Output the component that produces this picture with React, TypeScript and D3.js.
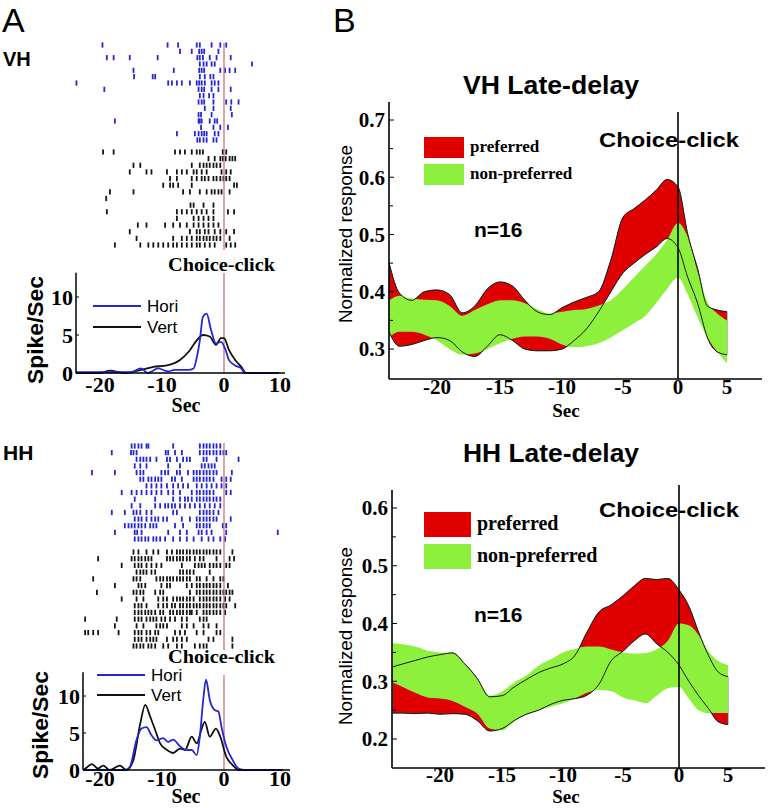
import React from "react";
import * as d3 from "d3";

const SERIF = "'Liberation Serif','Times New Roman',serif";
const SANS = "'Liberation Sans',Arial,Helvetica,sans-serif";
const RED = "#e00000";
const GREEN = "#8cf03c";
const BLUE = "#2626d6";

// ---------- Panel B data (normalized response bands) ----------
const bandTimes = [-23.8, -23, -22, -21, -20, -19, -18, -17, -16, -15, -14, -13, -12, -11, -10, -9, -8, -7, -6, -5, -4, -3, -2, -1, 0, 1, 2, 3, 4, 5];

const vhPrefHi = [0.45, 0.398, 0.385, 0.4, 0.403, 0.395, 0.363, 0.375, 0.405, 0.417, 0.41, 0.385, 0.365, 0.36, 0.372, 0.382, 0.39, 0.4, 0.455, 0.53, 0.545, 0.56, 0.577, 0.596, 0.583, 0.5, 0.44, 0.375, 0.368, 0.365];
const vhPrefLo = [0.33, 0.305, 0.308, 0.315, 0.32, 0.315, 0.295, 0.287, 0.305, 0.325, 0.315, 0.3, 0.297, 0.297, 0.3, 0.315, 0.335, 0.365, 0.4, 0.433, 0.45, 0.465, 0.478, 0.493, 0.477, 0.425, 0.38, 0.32, 0.295, 0.29];
const vhNonHi = [0.385, 0.393, 0.388, 0.386, 0.385, 0.375, 0.358, 0.368, 0.378, 0.385, 0.385, 0.38, 0.37, 0.362, 0.365, 0.368, 0.37, 0.376, 0.385, 0.405, 0.425, 0.445, 0.465, 0.49, 0.52, 0.495, 0.435, 0.382, 0.362, 0.35];
const vhNonLo = [0.32, 0.33, 0.33, 0.325, 0.315, 0.3, 0.29, 0.292, 0.3, 0.31, 0.318, 0.322, 0.322, 0.318, 0.308, 0.303, 0.305, 0.31, 0.32, 0.333, 0.345, 0.357, 0.38, 0.405, 0.425, 0.395, 0.355, 0.32, 0.295, 0.275];

const hhPrefHi = [0.325, 0.33, 0.336, 0.342, 0.346, 0.349, 0.33, 0.305, 0.273, 0.275, 0.29, 0.303, 0.315, 0.323, 0.33, 0.345, 0.385, 0.42, 0.432, 0.448, 0.465, 0.478, 0.476, 0.478, 0.458, 0.43, 0.385, 0.345, 0.316, 0.308];
const hhPrefLo = [0.245, 0.245, 0.244, 0.245, 0.243, 0.244, 0.243, 0.232, 0.214, 0.218, 0.232, 0.243, 0.25, 0.26, 0.267, 0.27, 0.276, 0.295, 0.335, 0.352, 0.37, 0.382, 0.365, 0.35, 0.328, 0.3, 0.275, 0.253, 0.23, 0.225];
const hhNonHi = [0.366, 0.364, 0.36, 0.353, 0.35, 0.349, 0.33, 0.305, 0.275, 0.282, 0.298, 0.31, 0.327, 0.338, 0.35, 0.356, 0.36, 0.36, 0.355, 0.35, 0.348, 0.349, 0.355, 0.37, 0.4, 0.397, 0.38, 0.352, 0.335, 0.328];
const hhNonLo = [0.298, 0.29, 0.28, 0.272, 0.27, 0.266, 0.256, 0.244, 0.218, 0.215, 0.23, 0.243, 0.25, 0.256, 0.262, 0.27, 0.28, 0.285, 0.283, 0.272, 0.267, 0.262, 0.275, 0.288, 0.29, 0.27, 0.25, 0.245, 0.245, 0.245];

const bXTicks = [-20, -15, -10, -5, 0, 5];
const vhYTicks = [0.3, 0.4, 0.5, 0.6, 0.7];
const vhYMinor = [0.35, 0.45, 0.55, 0.65];
const hhYTicks = [0.2, 0.3, 0.4, 0.5, 0.6];
const hhYMinor = [0.25, 0.35, 0.45, 0.55];

// ---------- Panel A data (PSTH) ----------
const vhHoriT = [-23.9, -15, -13.4, -12.3, -10.6, -9, -8, -5.8, -4.9, -4.4, -3.9, -3.4, -2.8, -2.1, -1.3, -0.5, 0.3, 0.9, 2, 3.1, 3.7, 9.8];
const vhHoriV = [0.1, 0.1, 0.6, 0, 0.6, 0.2, 0.4, 0.4, 0.6, 2.0, 4.3, 7.4, 7.8, 5.7, 3.9, 4.1, 3.0, 1.7, 1.0, 0.6, 0, 0];
const vhVertT = [-23.9, -20, -18.4, -16, -13.4, -11.4, -9.2, -7.1, -5.5, -4.4, -3.4, -2.3, -1.3, -0.5, 0, 0.9, 2, 3.1, 3.9, 9.8];
const vhVertV = [0, 0, 0.3, 0, 0.4, 0.8, 1.0, 1.7, 3.0, 4.3, 5.0, 4.8, 3.7, 4.6, 4.6, 3.0, 1.7, 0.8, 0, 0];

const hhHoriT = [-22.7, -16, -15.2, -14.1, -13.3, -12.5, -11.7, -10.9, -9.8, -9.0, -8.2, -7.1, -6.0, -5.2, -4.4, -3.9, -3.3, -2.9, -2.3, -1.5, -0.9, -0.4, 0.4, 1.5, 2.6, 3.7, 10.5];
const hhHoriV = [0, 0, 0.4, 4.1, 5.6, 5.8, 4.7, 4.0, 4.3, 3.8, 4.1, 3.2, 2.7, 2.7, 2.0, 4.5, 9.9, 12.2, 9.5, 8.1, 7.9, 5.8, 3.2, 1.4, 0.2, 0, 0];
const hhVertT = [-22.7, -22.2, -21.3, -20.3, -19.5, -18.4, -16.8, -15.7, -14.6, -13.5, -12.7, -11.9, -11.1, -10.3, -9.2, -8.2, -7.1, -6.3, -5.2, -4.4, -3.6, -3.1, -2.3, -1.3, -0.6, 0.4, 1.5, 2.6, 10.5];
const hhVertV = [0, 0.3, 0.8, 0.2, 0.6, 0, 0.6, 0, 1.4, 6.3, 8.8, 7.2, 5.4, 3.6, 2.7, 2.3, 2.9, 2.7, 4.5, 3.6, 5.6, 6.5, 4.5, 5.6, 4.5, 1.8, 0.7, 0, 0];

const aXTicks = [-20, -10, 0, 10];
const aYTicks = [0, 5, 10];

// ---------- Panel A data (rasters, spike times in s) ----------
const vhBlueRaster = [
  [-19.6, -9.1, -7.4, -4.4, -3.9, -2.0, -0.6, 0.4],
  [-7.1, -5.2, -4.0, -3.6, -3.2, -0.9],
  [-18.9, -17.8, -15.2, -10.7, -4.3, -3.9, -3.4, -2.3, -1.2, 1.2],
  [-3.9, -3.3, -2.8, -2.0, -1.5, 5.0],
  [-14.6, -8.1, -4.0, -3.6, -3.2, -0.6, 0.2, 1.0, 2.0],
  [-14.5, -11.5, -11.1, -3.9, -3.1, -2.2, -1.7],
  [-23.8, -9.0, -8.4, -7.6, -6.8, -5.5, -4.4, -4.0, -3.6, -3.1, -2.0, -1.5, -0.9],
  [-19.3, -4.1, -3.6, -3.2, -2.0, -0.9, 1.2],
  [-3.9, -3.3, -2.4, -1.7],
  [-4.1, -3.6, -3.2, -1.7, 0.4, 1.3, 2.6],
  [-3.1, -1.7, 1.2],
  [-4.1, -3.7, -2.0, 1.4],
  [-17.6, -4.1, -3.9, -3.6, -2.3, -1.5, -1.1],
  [-3.7, -1.7, -0.6, 0.7],
  [-7.6, -4.7, -4.1, -3.6, -3.2, -2.8, -1.5, -0.9],
  [-4.3, -3.9, -3.3, -2.8, -1.7, -1.2],
];
const vhBlackRaster = [
  [-19.5, -17.8, -7.9, -7.1, -6.3, -5.2, -4.4, -3.9, -3.4, -0.2, 0.4],
  [-2.5, -1.5, -0.6, -0.2, 0.3, 1.0, 1.5, 2.0],
  [-14.6, -13.5, -5.2, -3.9, -3.3, -2.8, -2.3, -1.7, -1.2, -0.6],
  [-15.2, -12.5, -11.7, -9.2, -7.6, -6.8, -6.0, -4.9, -4.4, -3.6, -2.8, -0.4, 0.4, 1.2],
  [-8.7, -7.6, -5.2, -4.4, -3.6, -3.1, -2.5, -1.7, -1.2, -0.6, -0.1, 0.4, 1.0],
  [-9.8, -8.7, -8.2, -7.4, -5.2, 1.8, 2.3],
  [-18.4, -14.6, -6.6, -5.5, -3.9, -2.8, -2.0, -1.5, -0.9, -0.4, 1.0],
  [-19.0],
  [-5.4, -4.9, -3.3, -1.7],
  [-18.9, -7.6, -6.8, -6.0, -5.2, -4.4, -3.6, -2.8, -1.7, 0.7, 1.8],
  [-7.6, -4.9, -4.1, -3.3, -2.5, -1.7],
  [-13.9, -12.5, -9.5, -8.2, -7.1, -6.0, -4.9, -4.1, -3.3, -2.5, -1.7, -0.9],
  [-15.2, -5.5, -4.4, -3.9, -3.1, -2.5, -1.5, -0.6, 0.4, 1.8],
  [-14.1, -8.2, -6.8, -6.0, -5.2, -4.4, -3.9, -3.3, -2.8, -2.3, -1.7, -1.2, -0.6, 1.0],
  [-17.6, -13.5, -12.2, -11.4, -10.6, -9.8, -9.0, -8.2, -7.6, -6.8, -6.0, -5.2, -4.4, -3.9, -3.1, -2.3, -1.5, 0.4, 1.2, 2.0],
];
const hhBlueRaster = [
  [-14.9, -14.4, -13.8, -13.3, -12.5, -12.2, -8.2, -3.9, -3.3, -2.8, -2.3, -1.7, -1.2, -0.6],
  [-18.1, -15.0, -14.6, -14.1, -9.4, -9.0, -7.9, -6.8, -3.9, -3.3, -2.8, -2.3, -1.7, -1.2, -0.6, -0.1, 0.4],
  [-14.1, -13.5, -13.0, -12.5, -11.9, -10.9, -9.2, -8.7, -7.6, -6.6, -6.0, -5.5, -3.3, -2.8, -1.2, 2.6],
  [-14.4, -13.5, -12.5, -9.0, -7.1, -3.6, -3.1, -2.5, -2.0, -1.5],
  [-21.3, -17.6, -14.1, -13.5, -13.0, -10.1, -9.5, -9.0, -7.6, -7.1, -5.8, -4.9, -4.4, -3.9, -3.3, -2.8, -2.3, -1.7, -1.2, 1.4],
  [-13.5, -13.0, -12.2, -11.7, -11.1, -10.6, -10.1, -8.4, -7.9, -6.8, -4.9, -4.4, -3.9, -3.3, -2.8, -2.3, -1.7, -0.4, 0.4, 1.2],
  [-12.5, -11.7, -10.9, -10.1, -9.2, -8.2, -7.4, -6.6, -5.8, -4.4, -3.6, -2.8, -2.0, -1.2, -0.4, 0.4],
  [-16.5, -14.9, -14.1, -13.3, -12.5, -11.7, -10.9, -10.1, -9.0, -8.2, -7.1, -5.2, -4.4, -3.9, -3.3, -2.8, -2.3, -1.7, 0.4, 1.2],
  [-14.4, -11.1, -8.2, -7.1, -6.3, -5.8, -5.2, -4.4, -3.9, -3.3, -2.8, -2.3, -1.7, -1.2, -0.6],
  [-14.9, -13.5, -11.1, -10.3, -9.5, -9.0, -8.4, -7.9, -7.1, -6.3, -5.5, -4.7, -3.9, -3.1, -2.3, -1.5, -0.6],
  [-18.1, -16.0, -14.6, -14.1, -13.5, -12.5, -11.7, -8.2, -7.6, -3.9, -3.3, -2.8, -2.3, -1.7, -0.9],
  [-14.4, -13.8, -13.3, -12.5, -11.7, -11.1, -10.6, -9.8, -9.2, -6.8, -5.5, -4.4, -3.9, -3.3, -2.8, -2.3, -1.7, -1.2, 1.2],
  [-16.0, -15.4, -14.9, -14.4, -13.8, -13.3, -12.7, -11.9, -11.4, -10.9, -7.9, -6.6, -4.4, -3.9, -3.3, -2.8, -2.3, -0.2, 0.4],
  [-17.6, -14.4, -14.0, -13.3, -9.0, -7.1, -6.0, -4.1, -3.6, -2.8, -2.0, 0.4, 9.6],
  [-14.4, -13.8, -13.3, -12.7, -12.2, -11.4, -10.9, -10.3, -9.5, -8.2, -7.1, -6.0, -4.9, -3.6, -2.5, -1.7, -0.6, 0.2],
];
const hhBlackRaster = [
  [-14.6, -13.8, -12.5, -11.4, -10.6, -9.2, -8.4, -7.6, -7.1, -6.6, -6.0, -5.5, -4.9, -4.4, -3.9, -3.3, -2.8, -2.3, -1.7, -1.2, -0.6, 1.5],
  [-20.3, -14.9, -14.4, -13.8, -13.3, -12.7, -12.2, -11.7, -9.2, -8.7, -8.2, -7.6, -7.1, -6.6, -6.0, -5.5, -4.7, -3.9, -3.3, -1.2, 1.0, 1.8],
  [-16.5, -14.4, -13.8, -13.3, -12.5, -11.7, -10.9, -10.1, -6.8, -4.7, -4.1, -3.6, -3.1, -2.3, -1.7, -1.2, -0.6, 0.4, 1.0],
  [-14.1, -13.5, -13.0, -12.5, -11.7, -11.1, -7.1, -6.6, -6.0, -5.5, -4.9, -2.3],
  [-21.1, -14.6, -14.1, -13.5, -10.9, -10.3, -9.8, -9.2, -8.7, -8.2, -7.6, -7.1, -6.6, -6.0, -5.5, -4.4, -3.9, -2.8, -1.7, -0.6, -0.1],
  [-17.6, -13.8, -13.3, -12.7, -10.1, -9.2, -8.7, -6.0, -5.2, -4.4, -3.9, -3.3, -2.8, -2.3, -1.7, -1.2, -0.6, 0.7],
  [-20.5, -14.6, -14.1, -13.5, -13.0, -11.1, -10.3, -9.8, -5.5, -4.4, -3.9, -3.3, -2.8, -2.3, -1.7, -1.2, -0.6, -0.1, 0.4, 1.0, 1.5],
  [-16.5, -14.1, -13.0, -10.6, -9.8, -9.2, -8.2, -7.6, -7.1, -6.6, -6.0, -5.5, -4.9, -3.9, -3.3, -2.8, -2.3, -1.7, -1.2, -0.6, 0.2, 1.0],
  [-14.4, -13.8, -13.3, -12.5, -10.6, -9.8, -9.2, -8.4, -7.9, -7.1, -6.6, -6.0, -5.5, -4.9, -4.4, -3.9, -3.3, -2.8, -2.3, -1.7, -1.2, -0.6, -0.1, 0.4, 2.0],
  [-14.4, -13.8, -13.3, -12.7, -12.2, -11.7, -11.1, -10.3, -9.8, -8.7, -8.2, -7.6, -7.1, -6.6, -6.0, -5.5, -5.2, -4.4, -3.3, -2.8, -2.3, -1.7, -1.2, -0.6, 0.2],
  [-22.4, -17.3, -14.4, -13.8, -13.3, -12.5, -11.9, -11.4, -10.9, -10.1, -9.5, -8.7, -7.9, -6.8, -6.0, -3.9, -3.3, -2.8],
  [-17.6, -14.1, -13.0, -10.9, -10.3, -9.8, -9.2, -6.8, -6.0, -4.9, -3.3, -2.5, -1.2],
  [-22.4, -21.9, -21.1, -20.3, -17.0, -14.4, -13.8, -13.3, -12.5, -11.9, -11.1, -10.6, -7.9, -7.1, -6.3, -4.4, -3.3, -1.2, -0.6],
  [-14.4, -13.8, -13.3, -12.5, -11.9, -11.4, -10.9, -9.2, -8.2, -7.6, -6.8, -6.0, -2.5, -1.7, 1.5],
  [-14.6, -14.1, -13.5, -13.0, -12.2, -11.7, -11.1, -9.8, -9.0, -7.6, -6.8, -4.7, -3.9, -3.3, -2.8, 1.5],
];

// ---------- Panel B component ----------
type BandCfg = {
  title: string; titleY: number;
  xRange: number[]; axisX: number; axisTop: number; axisBottom: number; axisRight: number;
  yDomain: number[]; yRange: number[]; yTicks: number[]; yMinor: number[];
  prefHi: number[]; prefLo: number[]; nonHi: number[]; nonLo: number[];
  lineTop: number; legY: number; legH: number; legW: number; legGap: number; legFont: number;
  nY: number; ccY: number; yLabelY: number; xLabelY: number; secY: number;
};

function BandPanel({ c }: { c: BandCfg }) {
  const x = d3.scaleLinear().domain(bXTicks).range(c.xRange);
  const y = d3.scaleLinear().domain(c.yDomain).range(c.yRange);
  const idx = d3.range(bandTimes.length);
  const area = (lo: number[], hi: number[]) =>
    d3.area<number>().x((i) => x(bandTimes[i])).y0((i) => y(lo[i])).y1((i) => y(hi[i])).curve(d3.curveMonotoneX)(idx) || "";
  const line = (v: number[]) =>
    d3.line<number>().x((i) => x(bandTimes[i])).y((i) => y(v[i])).curve(d3.curveMonotoneX)(idx) || "";
  return (
    <g>
      <text x={551} y={c.titleY} textAnchor="middle" fontFamily={SANS} fontWeight="bold" fontSize={25} textLength={176} lengthAdjust="spacingAndGlyphs">{c.title}</text>
      <path d={area(c.prefLo, c.prefHi)} fill={RED} stroke="#555" strokeWidth={0.8} />
      <path d={area(c.nonLo, c.nonHi)} fill={GREEN} />
      <path d={line(c.prefHi)} fill="none" stroke="#1a1a1a" strokeWidth={1} />
      <path d={line(c.prefLo)} fill="none" stroke="#1a1a1a" strokeWidth={1} />
      {/* axes */}
      <line x1={c.axisX} x2={c.axisX} y1={c.axisTop} y2={c.axisBottom} stroke="#000" strokeWidth={1.6} />
      <line x1={c.axisX} x2={c.axisRight} y1={c.axisBottom} y2={c.axisBottom} stroke="#000" strokeWidth={1.6} />
      {c.yTicks.map((t) => (
        <g key={"yt" + t}>
          <line x1={c.axisX} x2={c.axisX + 5} y1={y(t)} y2={y(t)} stroke="#000" strokeWidth={1} />
          <text x={c.axisX - 4} y={y(t)} dy="0.35em" textAnchor="end" fontFamily={SERIF} fontWeight="bold" fontSize={21}>{t.toFixed(1)}</text>
        </g>
      ))}
      {c.yMinor.map((t) => (
        <line key={"ym" + t} x1={c.axisX} x2={c.axisX + 4} y1={y(t)} y2={y(t)} stroke="#000" strokeWidth={1} />
      ))}
      {bXTicks.map((t) => (
        <text key={"xt" + t} x={x(t)} y={c.xLabelY} textAnchor="middle" fontFamily={SERIF} fontWeight="bold" fontSize={21}>{String(t)}</text>
      ))}
      <text x={566} y={c.secY} textAnchor="middle" fontFamily={SERIF} fontWeight="bold" fontSize={19}>Sec</text>
      <text transform={`translate(352,${c.yLabelY}) rotate(-90)`} textAnchor="middle" fontFamily={SANS} fontSize={18} textLength={178} lengthAdjust="spacingAndGlyphs">Normalized response</text>
      {/* legend */}
      <rect x={424} y={c.legY} width={c.legW} height={c.legH} fill={RED} />
      <rect x={424} y={c.legY + c.legGap} width={c.legW} height={c.legH} fill={GREEN} />
      <text x={424 + c.legW + 6} y={c.legY + c.legH * 0.72} fontFamily={SERIF} fontWeight="bold" fontSize={c.legFont}>preferred</text>
      <text x={424 + c.legW + 6} y={c.legY + c.legGap + c.legH * 0.72} fontFamily={SERIF} fontWeight="bold" fontSize={c.legFont}>non-preferred</text>
      <text x={474} y={c.nY} fontFamily={SANS} fontWeight="bold" fontSize={21}>n=16</text>
      <text x={599} y={c.ccY} fontFamily={SANS} fontWeight="bold" fontSize={21} textLength={140} lengthAdjust="spacingAndGlyphs">Choice-click</text>
      <line x1={x(0)} x2={x(0)} y1={c.lineTop} y2={c.axisBottom} stroke="#000" strokeWidth={1.6} />
    </g>
  );
}

// ---------- Panel A component ----------
type PsthCfg = {
  axisX: number; axisRight: number; y0: number; y10: number;
  blueRows: number[][]; blackRows: number[][];
  blueRange: number[]; blackRange: number[]; rasterTop: number; rasterBottom: number;
  psthLineTop: number; horiT: number[]; horiV: number[]; vertT: number[]; vertV: number[];
  xLabelY: number; secY: number; spikeY: number; spikeX: number; ccY: number;
  legY1: number; legY2: number; legX: number;
};

const aX = d3.scaleLinear().domain(aXTicks).range([100, 162, 224, 280]);

function PsthPanel({ c }: { c: PsthCfg }) {
  const y = d3.scaleLinear().domain([0, 10]).range([c.y0, c.y10]);
  const top = y(13.2);
  const rowsB = d3.scalePoint<number>().domain(d3.range(c.blueRows.length)).range(c.blueRange);
  const rowsK = d3.scalePoint<number>().domain(d3.range(c.blackRows.length)).range(c.blackRange);
  const mk = (T: number[], V: number[]) =>
    d3.line<number>().x((i) => aX(T[i])).y((i) => y(V[i])).curve(d3.curveMonotoneX)(d3.range(T.length)) || "";
  const raster = (rows: number[][], sc: any, col: string, key: string) =>
    rows.map((r, ri) =>
      r.map((t, k) => (
        <line key={key + ri + "_" + k} x1={aX(t)} x2={aX(t)} y1={sc(ri) - 2.6} y2={sc(ri) + 2.6} stroke={col} strokeWidth={1.8} />
      ))
    );
  return (
    <g>
      {raster(c.blueRows, rowsB, BLUE, "b")}
      {raster(c.blackRows, rowsK, "#151515", "k")}
      <line x1={aX(0)} x2={aX(0)} y1={c.rasterTop} y2={c.rasterBottom} stroke="#c46a6a" strokeWidth={1.2} />
      <text x={aX(0) - 56} y={c.ccY} fontFamily={SERIF} fontWeight="bold" fontSize={19} textLength={107} lengthAdjust="spacingAndGlyphs">Choice-click</text>
      <line x1={aX(0)} x2={aX(0)} y1={c.psthLineTop} y2={c.y0} stroke="#c46a6a" strokeWidth={1.2} />
      <path d={mk(c.vertT, c.vertV)} fill="none" stroke="#111" strokeWidth={1.8} />
      <path d={mk(c.horiT, c.horiV)} fill="none" stroke={BLUE} strokeWidth={1.8} />
      <line x1={c.axisX} x2={c.axisX} y1={top} y2={c.y0} stroke="#000" strokeWidth={1.5} />
      <line x1={c.axisX} x2={c.axisRight} y1={c.y0} y2={c.y0} stroke="#000" strokeWidth={1.5} />
      {aYTicks.map((t) => (
        <g key={"ay" + t}>
          <line x1={c.axisX} x2={c.axisX + 3} y1={y(t)} y2={y(t)} stroke="#000" />
          <text x={c.axisX - 3} y={y(t)} dy="0.35em" textAnchor="end" fontFamily={SERIF} fontWeight="bold" fontSize={22}>{String(t)}</text>
        </g>
      ))}
      {aXTicks.map((t) => (
        <text key={"ax" + t} x={aX(t)} y={c.xLabelY} textAnchor="middle" fontFamily={SERIF} fontWeight="bold" fontSize={22}>{String(t)}</text>
      ))}
      <text x={186} y={c.secY} textAnchor="middle" fontFamily={SERIF} fontWeight="bold" fontSize={20}>Sec</text>
      <text transform={`translate(${c.spikeX},${c.spikeY}) rotate(-90)`} textAnchor="middle" fontFamily={SANS} fontWeight="bold" fontSize={22} textLength={108} lengthAdjust="spacingAndGlyphs">Spike/Sec</text>
      <line x1={c.legX} x2={c.legX + 48} y1={c.legY1} y2={c.legY1} stroke={BLUE} strokeWidth={1.8} />
      <line x1={c.legX} x2={c.legX + 48} y1={c.legY2} y2={c.legY2} stroke="#111" strokeWidth={1.8} />
      <text x={c.legX + 54} y={c.legY1 + 6} fontFamily={SANS} fontSize={17}>Hori</text>
      <text x={c.legX + 54} y={c.legY2 + 6} fontFamily={SANS} fontSize={17}>Vert</text>
    </g>
  );
}

export default function App() {
  const vh: BandCfg = {
    title: "VH Late-delay", titleY: 94,
    xRange: [437, 500, 562, 623, 678, 727], axisX: 389, axisTop: 102, axisBottom: 379, axisRight: 762,
    yDomain: [0.3, 0.7], yRange: [349, 120], yTicks: vhYTicks, yMinor: vhYMinor,
    prefHi: vhPrefHi, prefLo: vhPrefLo, nonHi: vhNonHi, nonLo: vhNonLo,
    lineTop: 112, legY: 137, legH: 21, legW: 40, legGap: 27, legFont: 17,
    nY: 237, ccY: 147, yLabelY: 234, xLabelY: 394, secY: 417,
  };
  const hh: BandCfg = {
    title: "HH Late-delay", titleY: 462,
    xRange: [440, 502, 563, 623, 679, 728], axisX: 392, axisTop: 490, axisBottom: 768, axisRight: 765,
    yDomain: [0.2, 0.6], yRange: [739, 508], yTicks: hhYTicks, yMinor: hhYMinor,
    prefHi: hhPrefHi, prefLo: hhPrefLo, nonHi: hhNonHi, nonLo: hhNonLo,
    lineTop: 485, legY: 512, legH: 25, legW: 47, legGap: 32, legFont: 20,
    nY: 622, ccY: 517, yLabelY: 636, xLabelY: 782, secY: 803,
  };
  const vhA: PsthCfg = {
    axisX: 76, axisRight: 285, y0: 373, y10: 297,
    blueRows: vhBlueRaster, blackRows: vhBlackRaster, blueRange: [45, 140], blackRange: [152, 245],
    rasterTop: 43, rasterBottom: 250, psthLineTop: 273,
    horiT: vhHoriT, horiV: vhHoriV, vertT: vhVertT, vertV: vhVertV,
    xLabelY: 392, secY: 412, spikeY: 330, spikeX: 43, ccY: 271,
    legY1: 306, legY2: 327, legX: 93,
  };
  const hhA: PsthCfg = {
    axisX: 83, axisRight: 290, y0: 770, y10: 696,
    blueRows: hhBlueRaster, blackRows: hhBlackRaster, blueRange: [446, 539], blackRange: [552, 646],
    rasterTop: 443, rasterBottom: 650, psthLineTop: 675,
    horiT: hhHoriT, horiV: hhHoriV, vertT: hhVertT, vertV: hhVertV,
    xLabelY: 786, secY: 803, spikeY: 725, spikeX: 48, ccY: 663,
    legY1: 675, legY2: 695, legX: 97,
  };
  return (
    <svg width={778} height={808} style={{ position: "absolute", left: 0, top: 0, background: "#fff" }}>
      <rect x={0} y={0} width={778} height={808} fill="#fff" />
      <text x={2} y={32} fontFamily={SANS} fontSize={34}>A</text>
      <text x={333} y={32} fontFamily={SANS} fontSize={34}>B</text>
      <text x={3} y={66} fontFamily={SANS} fontWeight="bold" fontSize={20}>VH</text>
      <text x={3} y={460} fontFamily={SANS} fontWeight="bold" fontSize={21}>HH</text>
      <PsthPanel c={vhA} />
      <PsthPanel c={hhA} />
      <BandPanel c={vh} />
      <BandPanel c={hh} />
    </svg>
  );
}
